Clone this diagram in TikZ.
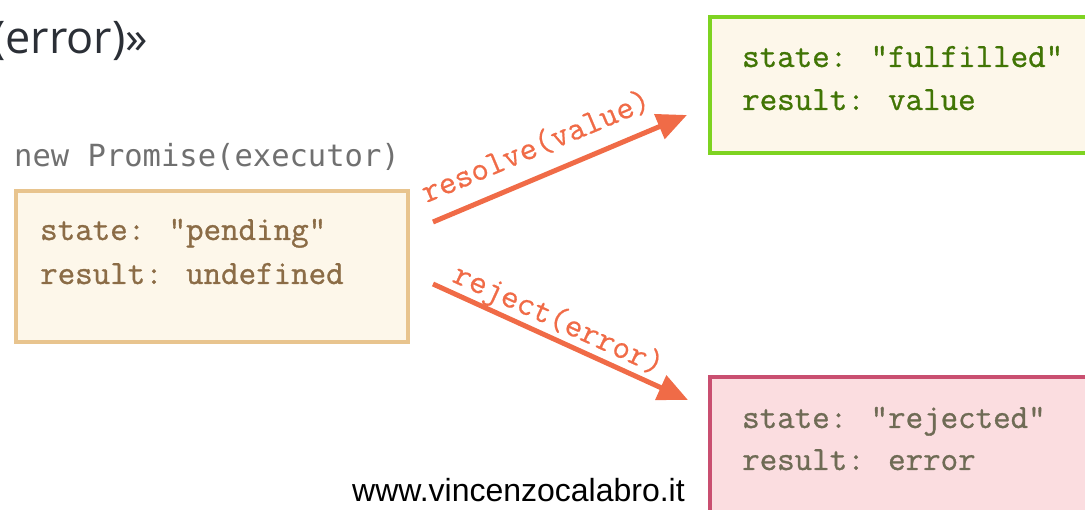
\documentclass[tikz,border=0pt]{standalone}
\usepackage{fontspec}
\setmainfont{Open Sans}
\newfontfamily\monosans{DejaVu Sans Mono}
\newfontfamily\monoserif[FakeBold=0.5]{Latin Modern Mono}
\newfontfamily\monobox[FakeBold=0.9]{Latin Modern Mono}
\newfontfamily\urlfont{Liberation Sans}
\usetikzlibrary{arrows.meta,calc}
\definecolor{titlec}{HTML}{2B2F36}
\definecolor{graytxt}{HTML}{707070}
\definecolor{boxfill}{HTML}{FDF7EA}
\definecolor{pendborder}{HTML}{E8C48E}
\definecolor{pendtxt}{HTML}{8B6C46}
\definecolor{fulborder}{HTML}{7ED321}
\definecolor{fultxt}{HTML}{417505}
\definecolor{rejborder}{HTML}{C94F70}
\definecolor{rejfill}{HTML}{FBDDE0}
\definecolor{rejtxt}{HTML}{6F6B55}
\definecolor{arrowc}{HTML}{F06B47}
\begin{document}
\begin{tikzpicture}[x=1pt,y=-1pt,
  statebox/.style={draw, line width=4pt, inner sep=0pt, anchor=north west},
  txt/.style={inner sep=0pt, anchor=base west},
  boxtext/.style={txt, font=\monobox\fontsize{34}{40}\selectfont},
  promarrow/.style={draw=arrowc, line width=5pt, -{Triangle[length=30pt,width=26pt]}},
  arrlabel/.style={sloped, inner sep=0pt, anchor=base, text=arrowc, font=\monoserif\fontsize{34}{40}\selectfont}
]
\useasboundingbox (0,0) rectangle (1085,510);
\clip (0,0) rectangle (1085,510);

% title fragment
\node[txt, text=titlec, font=\fontsize{45}{54}\selectfont] (title) at (-8,54) {(error)»};

% pending
\node[txt, text=graytxt, font=\monosans\fontsize{30.5}{36}\selectfont] (newp) at (14,167) {new Promise(executor)};
\node[statebox, draw=pendborder, fill=boxfill, minimum width=392pt, minimum height=151pt] (pending) at (14,189) {};
\node[boxtext, text=pendtxt] (pstate) at (40,240) {state: "pending"};
\node[boxtext, text=pendtxt] (presult) at (40,284) {result: undefined};

% fulfilled
\node[statebox, draw=fulborder, fill=boxfill, minimum width=500pt, minimum height=136pt] (fulfilled) at (708,15) {};
\node[boxtext, text=fultxt] (fstate) at (742,67) {state: "fulfilled"};
\node[boxtext, text=fultxt] (fresult) at (742,110) {result: value};

% rejected
\node[statebox, draw=rejborder, fill=rejfill, minimum width=500pt, minimum height=200pt] (rejected) at (708,375) {};
\node[boxtext, text=rejtxt] (rstate) at (742,428) {state: "rejected"};
\node[boxtext, text=rejtxt] (rresult) at (742,470) {result: error};

% arrows
\coordinate (rs) at (433,222);
\coordinate (re) at (687,115);
\coordinate (js) at (433,284);
\coordinate (je) at (688,400);
\draw[promarrow] (rs) -- (re) node[arrlabel, pos=0.45, yshift=20pt] (reslabel) {resolve(value)};
\draw[promarrow] (js) -- (je) node[arrlabel, pos=0.46, yshift=10pt] (rejlabel) {reject(error)};

% footer
\node[txt, font=\urlfont\fontsize{32}{38}\selectfont] (url) at (352,502) {www.vincenzocalabro.it};
\end{tikzpicture}
\end{document}
